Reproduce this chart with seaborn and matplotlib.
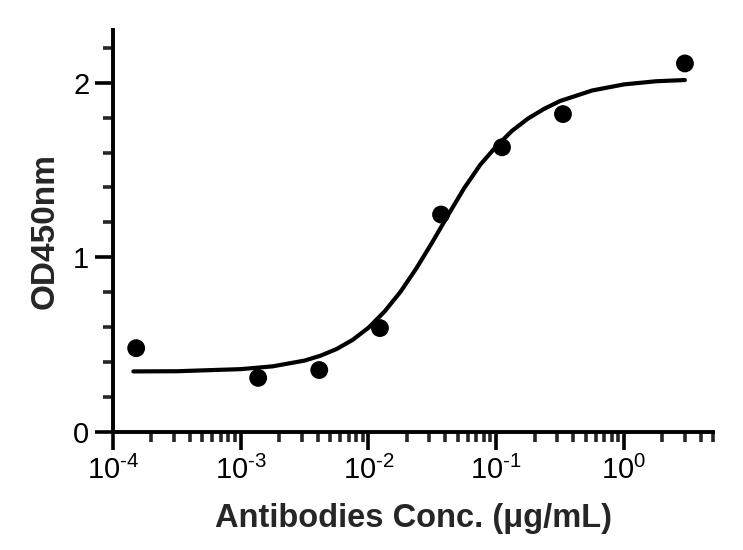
import numpy as np
import pandas as pd
import matplotlib
matplotlib.use("Agg")
import matplotlib.pyplot as plt
import matplotlib.ticker as mticker
import seaborn as sns

# measured points (3-fold dilution series)
conc = [1.52e-4, 1.37e-3, 4.12e-3, 1.23e-2, 3.70e-2, 1.11e-1, 3.33e-1, 3.0]
od450 = [0.48, 0.31, 0.355, 0.595, 1.245, 1.63, 1.82, 2.11]

# fitted curve (log10 conc, OD)
curve_log = [-3.84, -3.5, -3.0, -2.75, -2.5, -2.375, -2.25, -2.125, -2.0, -1.875,
             -1.75, -1.625, -1.5, -1.375, -1.25, -1.125, -1.0, -0.875, -0.75,
             -0.625, -0.5, -0.25, 0.0, 0.25, 0.477]
curve_od = [0.347, 0.348, 0.360, 0.376, 0.409, 0.437, 0.475, 0.527, 0.597, 0.689,
            0.802, 0.937, 1.087, 1.244, 1.397, 1.530, 1.635, 1.725, 1.795,
            1.85, 1.895, 1.955, 1.99, 2.008, 2.015]

points = pd.DataFrame({"conc": conc, "od": od450})
curve = pd.DataFrame({"conc": [10 ** v for v in curve_log], "od": curve_od})

sns.set_style("ticks")
plt.rcParams["font.family"] = ["Liberation Sans", "DejaVu Sans"]
plt.rcParams["mathtext.fontset"] = "custom"
plt.rcParams["mathtext.rm"] = "Liberation Sans"
plt.rcParams["mathtext.default"] = "regular"

fig = plt.figure(figsize=(7.43, 5.5), dpi=100)
ax = fig.add_axes([0.152, 0.2145, 0.808, 0.7305])

sns.lineplot(data=curve, x="conc", y="od", color="black", linewidth=3.0,
             sort=False, ax=ax)
sns.scatterplot(data=points, x="conc", y="od", color="black", s=165,
                edgecolor="none", zorder=3, ax=ax)

ax.set_xscale("log")
ax.set_xlim(1e-4, 5)
ax.set_ylim(0, 2.3)


def pow10(v, pos):
    e = int(round(np.log10(v)))
    if e < 0:
        return r"$10^{\text{-}%d}$" % (-e)
    return r"$10^{%d}$" % e


ax.xaxis.set_major_locator(mticker.LogLocator(base=10, numticks=10))
ax.xaxis.set_major_formatter(mticker.FuncFormatter(pow10))
ax.xaxis.set_minor_locator(mticker.LogLocator(base=10, subs=np.arange(2, 10), numticks=10))
ax.xaxis.set_minor_formatter(mticker.NullFormatter())
ax.yaxis.set_major_locator(mticker.FixedLocator([0, 1, 2]))
ax.yaxis.set_minor_locator(mticker.MultipleLocator(0.2))

ax.tick_params(which="major", length=13, width=2.6, labelsize=21, pad=4,
               direction="out", colors="black")
ax.tick_params(which="minor", length=7.5, width=2.6, direction="out")

for side in ["left", "bottom"]:
    ax.spines[side].set_linewidth(2.8)
    ax.spines[side].set_color("black")
sns.despine(ax=ax)

ax.set_xlabel("Antibodies Conc. (μg/mL)", fontsize=23.5, fontweight="bold", labelpad=13)
ax.set_ylabel("OD450nm", fontsize=24, fontweight="bold", labelpad=9)

fig.savefig("out.png", dpi=100)
